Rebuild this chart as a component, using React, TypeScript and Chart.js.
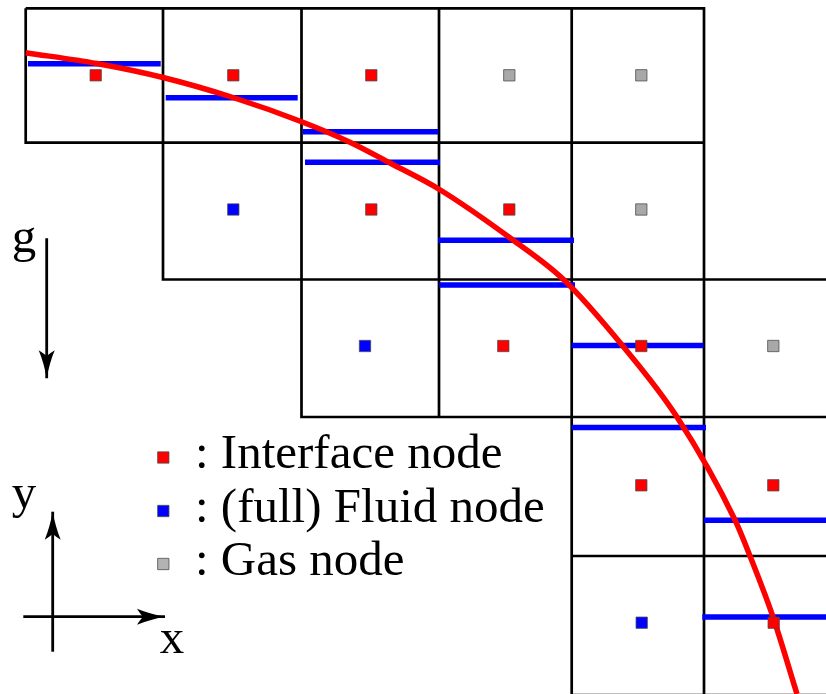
import { useEffect, useRef } from 'react';
import { Chart, registerables } from 'chart.js';

Chart.register(...registerables);

// ---- Diagram data (figure units: x to the right, y downward) ----
const colEdges = [25.7, 163, 301.5, 439, 571.7, 704, 836];
const rowEdges = [8.3, 142.7, 279.5, 417, 556, 695];
// first and last column index of the cells in each lattice row
const rowFirstCol = [0, 1, 2, 4, 4];
const rowLastCol = [4, 4, 5, 5, 5];

const interfaceNodesX = [95.7, 233.3, 371.3, 371.3, 509.3, 503.3, 641.3, 641.3, 773.3, 773.7];
const interfaceNodesY = [75.3, 75.3, 75.3, 209.5, 209.5, 346, 346, 485.3, 485.3, 622.7];
const fluidNodesX = [233.3, 365, 641.7];
const fluidNodesY = [209.5, 346, 622.7];
const gasNodesX = [509.3, 641.3, 641.3, 773.3];
const gasNodesY = [75.3, 75.3, 209.5, 346];

// reconstructed interface segments: start x, end x, level y
const segStartX = [28, 165.7, 302.7, 305, 438.3, 439.3, 571.7, 571.7, 704, 702.3];
const segEndX = [160.7, 297.7, 438.3, 440, 574, 575, 703.3, 706, 826, 826];
const segY = [63.7, 97.7, 131.7, 162.3, 240.3, 285, 345.5, 427.5, 520.3, 617];

// exact interface curve
const curveX = [25.7, 96.7, 163, 233, 301, 351, 390, 438.7, 513, 563, 622, 677, 735, 750, 773, 797];
const curveY = [52.7, 63.5, 77.5, 97.5, 121.5, 142.7, 163, 189, 240, 279, 345, 417, 520, 556, 617, 694];

// arrows: [startX, startY, endX, endY]
const gravityArrow = [46.7, 238.3, 46.7, 378.3];
const yAxisArrow = [52.7, 651.7, 52.7, 511.7];
const xAxisArrow = [23.3, 616.7, 165, 616.7];

const legendLabels = [': Interface node', ': (full) Fluid node', ': Gas node'];
const legendColors = ['#ff0000', '#0000ff', '#b3b3b3'];
const axisLabels = ['g', 'y', 'x'];

// ---- Layout (where labels sit) ----
const legendMarkerX = 163.3;
const legendMarkerY = [457.5, 511, 564];
const legendTextX = 195;
const legendTextY = [468.3, 521.7, 575];
const axisLabelX = [24, 24, 172];
const axisLabelY = [252, 508, 652.5];

const FONT = '49px "Liberation Serif", "DejaVu Serif", serif';

const arrowHeadPlugin = {
  id: 'arrowHeads',
  afterDatasetsDraw(chart: any) {
    const ctx = chart.ctx;
    chart.data.datasets.forEach((ds: any, i: number) => {
      if (!ds.arrowHead) return;
      const pts = chart.getDatasetMeta(i).data;
      const a = pts[pts.length - 2];
      const b = pts[pts.length - 1];
      const ang = Math.atan2(b.y - a.y, b.x - a.x);
      const L = 28, Wd = 8, ind = 6;
      ctx.save();
      ctx.translate(b.x, b.y);
      ctx.rotate(ang);
      ctx.fillStyle = '#000';
      ctx.beginPath();
      ctx.moveTo(0, 0);
      ctx.quadraticCurveTo(-L * 0.55, -Wd * 0.35, -L, -Wd);
      ctx.quadraticCurveTo(-L + ind * 0.6, -Wd * 0.3, -L + ind, 0);
      ctx.quadraticCurveTo(-L + ind * 0.6, Wd * 0.3, -L, Wd);
      ctx.quadraticCurveTo(-L * 0.55, Wd * 0.35, 0, 0);
      ctx.closePath();
      ctx.fill();
      ctx.restore();
    });
  },
};

const textPlugin = {
  id: 'diagramText',
  afterDraw(chart: any) {
    const ctx = chart.ctx;
    const xs = chart.scales.x;
    const ys = chart.scales.y;
    ctx.save();
    ctx.fillStyle = '#000';
    ctx.font = FONT;
    ctx.textBaseline = 'alphabetic';
    ctx.textAlign = 'left';
    legendLabels.forEach((t, i) => {
      ctx.fillText(t, xs.getPixelForValue(legendTextX), ys.getPixelForValue(legendTextY[i]));
    });
    ctx.textAlign = 'center';
    axisLabels.forEach((t, i) => {
      ctx.fillText(t, xs.getPixelForValue(axisLabelX[i]), ys.getPixelForValue(axisLabelY[i]));
    });
    ctx.restore();
  },
};

function toPoints(xs: number[], ys: number[]) {
  return xs.map((x, i) => ({ x, y: ys[i] }));
}

function arrowPoints(a: number[]) {
  return [{ x: a[0], y: a[1] }, { x: a[2], y: a[3] }];
}

export default function App() {
  const ref = useRef<HTMLCanvasElement>(null);

  useEffect(() => {
    if (!ref.current) return;

    const gridData: any[] = [];
    rowFirstCol.forEach((c0, r) => {
      for (let c = c0; c <= rowLastCol[r]; c++) {
        const x0 = colEdges[c], x1 = colEdges[c + 1];
        const y0 = rowEdges[r], y1 = rowEdges[r + 1];
        gridData.push(
          { x: x0, y: y0 }, { x: x1, y: y0 }, { x: x1, y: y1 },
          { x: x0, y: y1 }, { x: x0, y: y0 }, { x: x0, y: null }
        );
      }
    });

    const segData: any[] = [];
    segY.forEach((y, i) => {
      segData.push({ x: segStartX[i], y }, { x: segEndX[i], y }, { x: segEndX[i], y: null });
    });

    const nodeStyle = {
      showLine: false,
      pointStyle: 'rect',
      pointRadius: 8,
      pointHoverRadius: 8,
      pointBorderWidth: 1,
      pointBorderColor: 'rgba(70,70,70,0.75)',
      order: 0,
      clip: false,
    };

    const arrowStyle = {
      borderColor: '#000',
      borderWidth: 2.8,
      pointRadius: 0,
      borderCapStyle: 'butt',
      arrowHead: true,
      order: 4,
      clip: false,
    };

    const chart = new Chart(ref.current, {
      type: 'line',
      data: {
        datasets: [
          { ...nodeStyle, label: 'Interface node', data: toPoints(interfaceNodesX, interfaceNodesY), pointBackgroundColor: '#ff0000' },
          { ...nodeStyle, label: 'Fluid node', data: toPoints(fluidNodesX, fluidNodesY), pointBackgroundColor: '#0000ff' },
          { ...nodeStyle, label: 'Gas node', data: toPoints(gasNodesX, gasNodesY), pointBackgroundColor: '#a8a8a8' },
          {
            ...nodeStyle,
            label: 'legend',
            data: legendMarkerY.map((y) => ({ x: legendMarkerX, y })),
            pointBackgroundColor: legendColors,
          },
          {
            label: 'interface curve',
            data: toPoints(curveX, curveY),
            borderColor: '#ff0000',
            borderWidth: 5.5,
            pointRadius: 0,
            cubicInterpolationMode: 'monotone',
            borderCapStyle: 'butt',
            order: 1,
            clip: false,
          },
          {
            label: 'segments',
            data: segData,
            borderColor: '#0000ff',
            borderWidth: 5.5,
            pointRadius: 0,
            spanGaps: false,
            borderCapStyle: 'butt',
            order: 2,
            clip: false,
          },
          {
            label: 'grid',
            data: gridData,
            borderColor: '#000',
            borderWidth: 2.7,
            pointRadius: 0,
            spanGaps: false,
            borderJoinStyle: 'miter',
            order: 3,
            clip: false,
          },
          { ...arrowStyle, label: 'g', data: arrowPoints(gravityArrow) },
          { ...arrowStyle, label: 'y', data: arrowPoints(yAxisArrow) },
          { ...arrowStyle, label: 'x', data: arrowPoints(xAxisArrow) },
        ] as any,
      },
      options: {
        animation: false,
        responsive: false,
        devicePixelRatio: 1,
        layout: { padding: 0, autoPadding: false },
        events: [],
        plugins: { legend: { display: false }, tooltip: { enabled: false } },
        scales: {
          x: { type: 'linear', min: 0, max: 826, display: false },
          y: { type: 'linear', min: 0, max: 694, reverse: true, display: false },
        },
      } as any,
      plugins: [arrowHeadPlugin, textPlugin],
    });

    return () => chart.destroy();
  }, []);

  return (
    <div style={{ position: 'absolute', left: 0, top: 0, width: 826, height: 694, background: '#fff' }}>
      <canvas ref={ref} width={826} height={694} style={{ display: 'block' }} />
    </div>
  );
}
